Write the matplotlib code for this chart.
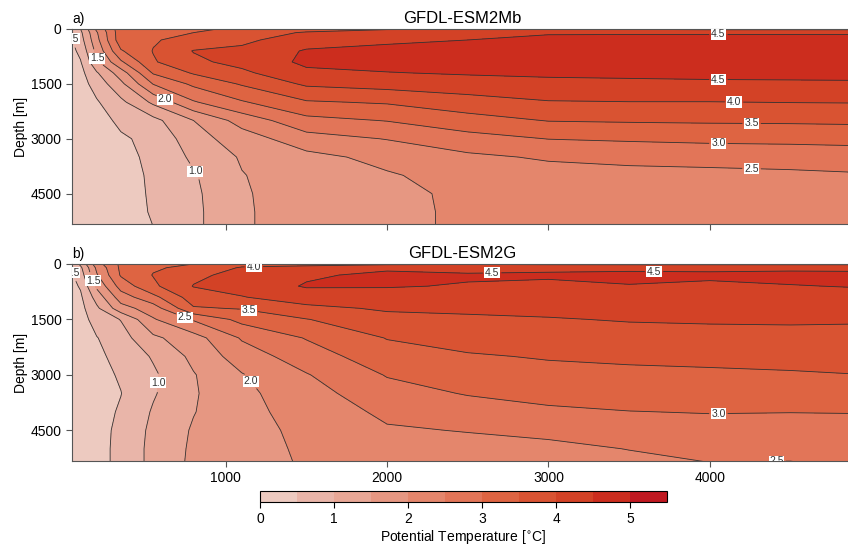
import numpy as np
import matplotlib
matplotlib.use('Agg')
import matplotlib.pyplot as plt

plt.rcParams['font.family'] = ['Liberation Sans', 'DejaVu Sans']

# grid of the section: distance along x, depth in metres
distance = [40, 100, 200, 350, 550, 800, 1100, 1500, 2000, 2500, 3000, 3500, 4000, 4500, 4900]
depth = [0, 100, 300, 600, 900, 1200, 1500, 2000, 2500, 3000, 3500, 4000, 4500, 5000, 5400]

# potential temperature, one row per distance, surface to bottom
temp_a = [
    [0.55, 0.50, 0.45, 0.35, 0.30, 0.25, 0.22, 0.20, 0.20, 0.20, 0.20, 0.20, 0.20, 0.20, 0.20],
    [1.00, 0.90, 0.80, 0.62, 0.47, 0.35, 0.30, 0.25, 0.22, 0.20, 0.20, 0.20, 0.20, 0.20, 0.20],
    [2.10, 1.95, 1.85, 1.65, 1.40, 0.95, 0.70, 0.45, 0.35, 0.30, 0.30, 0.28, 0.28, 0.28, 0.28],
    [3.30, 3.30, 3.30, 2.95, 2.42, 1.75, 1.38, 0.88, 0.58, 0.45, 0.42, 0.40, 0.40, 0.40, 0.40],
    [3.20, 3.30, 3.45, 3.52, 3.45, 3.05, 2.52, 1.60, 0.85, 0.60, 0.56, 0.54, 0.53, 0.52, 0.50],
    [3.40, 3.50, 3.70, 4.02, 3.90, 3.55, 3.10, 2.45, 1.50, 1.30, 1.10, 0.95, 0.90, 0.88, 0.88],
    [3.60, 3.75, 3.90, 4.10, 4.15, 3.90, 3.55, 2.95, 2.20, 1.75, 1.55, 1.48, 1.46, 1.45, 1.45],
    [3.80, 4.05, 4.25, 4.55, 4.60, 4.40, 4.08, 3.45, 2.85, 2.30, 1.85, 1.75, 1.70, 1.70, 1.70],
    [3.95, 4.25, 4.40, 4.65, 4.70, 4.48, 4.20, 3.55, 3.02, 2.52, 2.15, 1.95, 1.85, 1.85, 1.85],
    [3.95, 4.35, 4.50, 4.75, 4.78, 4.55, 4.28, 3.80, 3.30, 2.82, 2.40, 2.20, 2.12, 2.10, 2.10],
    [3.95, 4.40, 4.75, 4.90, 4.85, 4.60, 4.35, 3.97, 3.52, 3.01, 2.56, 2.30, 2.20, 2.15, 2.15],
    [3.95, 4.40, 4.80, 4.90, 4.85, 4.62, 4.38, 3.99, 3.55, 3.06, 2.65, 2.33, 2.22, 2.18, 2.18],
    [3.90, 4.40, 4.80, 4.90, 4.85, 4.65, 4.40, 3.99, 3.57, 3.10, 2.70, 2.35, 2.25, 2.20, 2.20],
    [3.90, 4.40, 4.80, 4.90, 4.85, 4.66, 4.41, 4.01, 3.58, 3.12, 2.72, 2.40, 2.27, 2.22, 2.22],
    [3.90, 4.40, 4.80, 4.90, 4.85, 4.67, 4.42, 4.02, 3.60, 3.15, 2.75, 2.45, 2.30, 2.25, 2.25],
]

temp_b = [
    [0.60, 0.50, 0.42, 0.35, 0.30, 0.27, 0.24, 0.22, 0.22, 0.22, 0.22, 0.22, 0.22, 0.22, 0.22],
    [1.10, 0.90, 0.75, 0.55, 0.42, 0.35, 0.30, 0.27, 0.25, 0.25, 0.25, 0.25, 0.25, 0.25, 0.25],
    [2.30, 2.10, 1.95, 1.60, 1.20, 0.90, 0.70, 0.48, 0.40, 0.35, 0.33, 0.33, 0.35, 0.35, 0.35],
    [3.10, 3.10, 3.05, 2.70, 2.25, 1.80, 1.02, 0.80, 0.65, 0.55, 0.49, 0.55, 0.60, 0.62, 0.62],
    [3.30, 3.45, 3.52, 3.40, 2.85, 2.25, 1.95, 1.40, 1.05, 0.92, 0.95, 1.05, 1.12, 1.15, 1.15],
    [3.50, 3.60, 3.90, 4.02, 3.75, 3.45, 2.55, 1.80, 1.62, 1.47, 1.45, 1.48, 1.55, 1.58, 1.60],
    [3.80, 4.05, 4.15, 4.15, 3.98, 3.53, 3.15, 2.55, 2.25, 1.97, 1.88, 1.85, 1.82, 1.80, 1.80],
    [3.80, 4.20, 4.42, 4.55, 4.20, 3.90, 3.48, 3.03, 2.75, 2.47, 2.30, 2.20, 2.12, 2.08, 2.05],
    [3.90, 4.40, 4.62, 4.53, 4.30, 4.05, 3.88, 3.52, 3.30, 3.03, 2.82, 2.60, 2.45, 2.32, 2.25],
    [3.95, 4.35, 4.55, 4.47, 4.27, 4.08, 3.93, 3.70, 3.45, 3.25, 3.03, 2.78, 2.52, 2.35, 2.25],
    [3.90, 4.42, 4.55, 4.42, 4.28, 4.12, 3.97, 3.78, 3.54, 3.35, 3.15, 2.92, 2.60, 2.40, 2.30],
    [3.90, 4.40, 4.60, 4.48, 4.32, 4.17, 4.03, 3.82, 3.60, 3.38, 3.20, 2.99, 2.75, 2.51, 2.40],
    [3.90, 4.40, 4.58, 4.42, 4.30, 4.18, 4.05, 3.85, 3.62, 3.42, 3.20, 3.02, 2.82, 2.62, 2.49],
    [3.90, 4.40, 4.62, 4.48, 4.33, 4.20, 4.06, 3.86, 3.66, 3.45, 3.22, 3.01, 2.80, 2.60, 2.48],
    [3.90, 4.40, 4.60, 4.52, 4.35, 4.20, 4.05, 3.85, 3.70, 3.49, 3.25, 3.02, 2.80, 2.65, 2.55],
]

levels = [0, 0.5, 1, 1.5, 2, 2.5, 3, 3.5, 4, 4.5, 5, 5.5]
colours = ['#EDCAC0', '#E9B5A9', '#E8A796', '#E69782', '#E4866C', '#E27558',
           '#DE6442', '#D95332', '#D34226', '#CC2D1E', '#C01820']
cbar_ticks = [0, 1, 2, 3, 4, 5]

fig = plt.figure(figsize=(8.48, 5.46), dpi=100)
ax_a = fig.add_axes([0.0849, 0.5897, 0.92, 0.3572])
ax_b = fig.add_axes([0.0849, 0.1557, 0.92, 0.3608])
cax = fig.add_axes([0.3066, 0.0805, 0.48, 0.0201])


def panel(ax, temp, title, tag, label_pos):
    z = np.array(temp).T
    cf = ax.contourf(distance, depth, z, levels=levels, colors=colours)
    cs = ax.contour(distance, depth, z, levels=levels[1:-1], colors='#333333', linewidths=0.6)
    lbl = ax.clabel(cs, fmt='%.1f', fontsize=7.5, manual=label_pos, inline=True, inline_spacing=2)
    for t in lbl:
        t.set_rotation(0)
        t.set_bbox(dict(facecolor='white', edgecolor='none', pad=0.4))
    ax.set_xlim(47, 4882)
    ax.set_ylim(5330, 0)
    ax.set_xticks([1000, 2000, 3000, 4000])
    ax.set_yticks([0, 1500, 3000, 4500])
    ax.tick_params(direction='out', length=4, width=0.8, labelsize=10, colors='#555555', labelcolor='black')
    ax.set_ylabel('Depth [m]', fontsize=10, labelpad=2)
    for s in ax.spines.values():
        s.set_color('#555555')
        s.set_linewidth(0.8)
    ax.set_title(title, fontsize=12, pad=4)
    ax.text(0.0, 1.015, tag, transform=ax.transAxes, fontsize=10, ha='left', va='bottom')
    return cf


# label positions (distance, depth) for the contour labels
pos_a = [(72, 250), (190, 823), (614, 2029), (807, 3894), (4053, 200), (4053, 1343),
         (4150, 2002), (4259, 2577), (4053, 3098), (4259, 3756)]
pos_b = [(60, 220), (171, 467), (745, 1456), (1143, 1264), (1174, 40), (583, 3214),
         (1143, 3214), (2651, 230), (3654, 247), (4053, 4038), (4414, 5275)]

cf = panel(ax_a, temp_a, 'GFDL-ESM2Mb', 'a)', pos_a)
panel(ax_b, temp_b, 'GFDL-ESM2G', 'b)', pos_b)
ax_a.tick_params(labelbottom=False)

cb = fig.colorbar(cf, cax=cax, orientation='horizontal', ticks=cbar_ticks)
cb.outline.set_linewidth(0.8)
cb.ax.tick_params(direction='out', length=4, width=0.8, labelsize=10)
cb.set_label('Potential Temperature [$^{\\circ}$C]', fontsize=10, labelpad=1)

fig.savefig('out.png', dpi=100)
